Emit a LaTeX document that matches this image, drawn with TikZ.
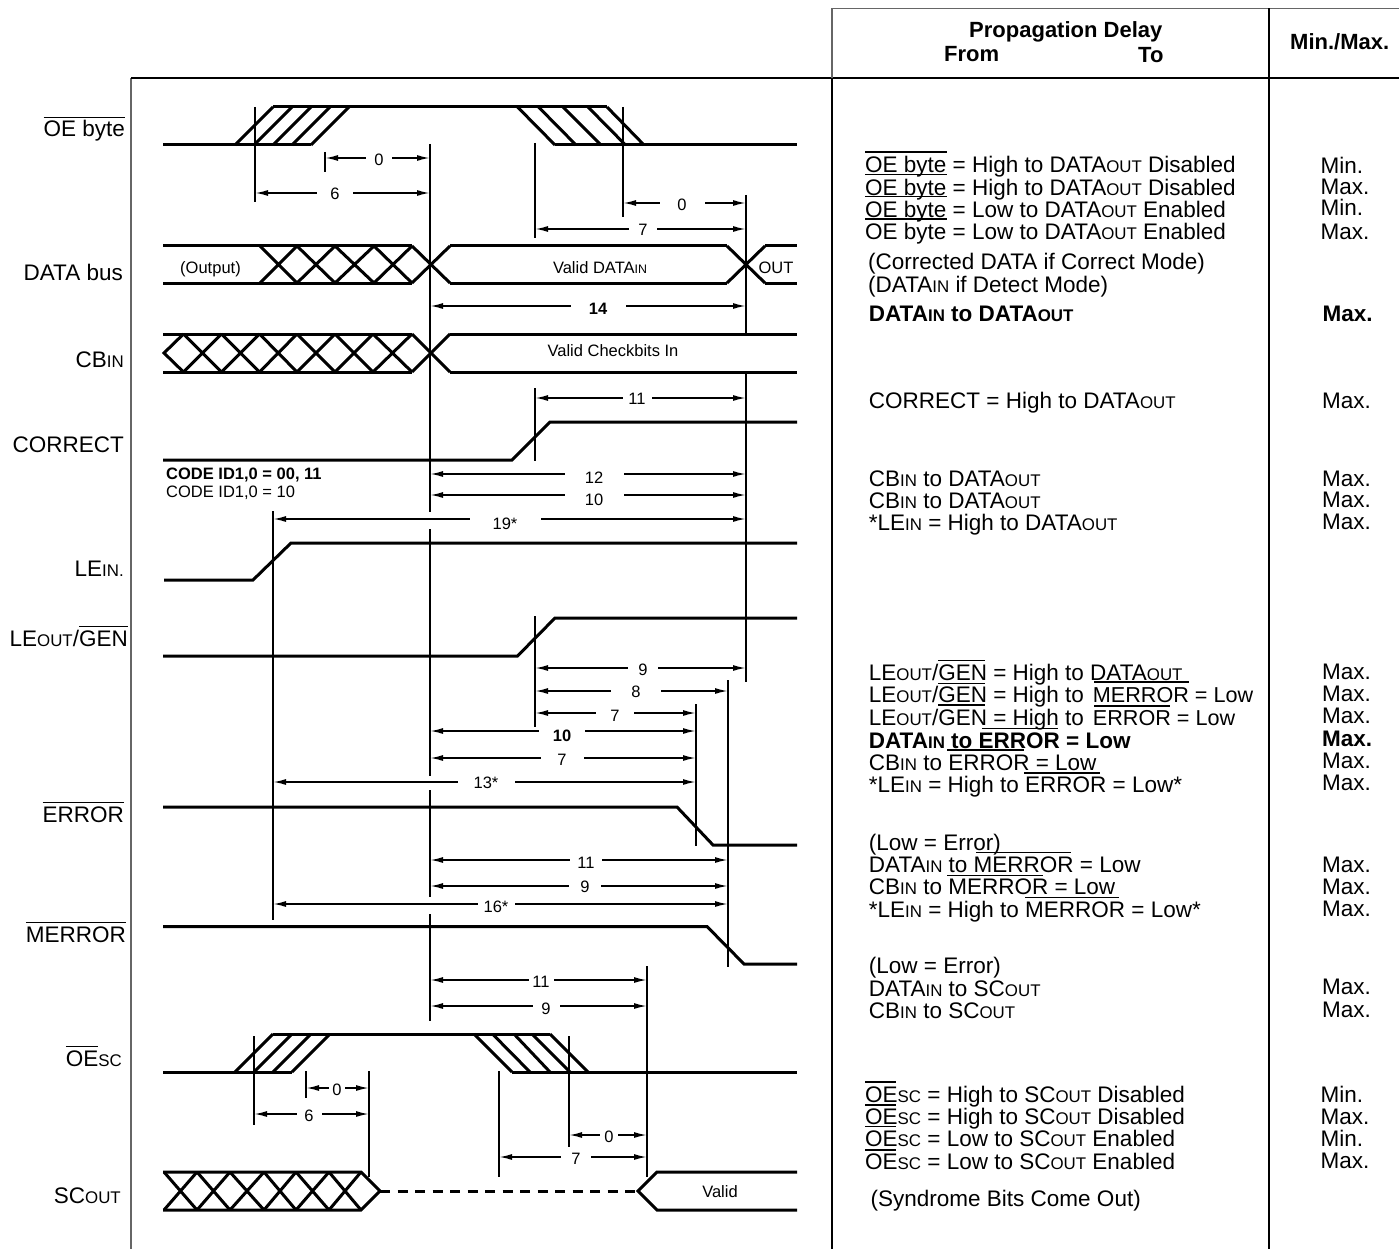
\documentclass[tikz,border=0pt]{standalone}
\usepackage{fontspec}
\setmainfont{Liberation Sans}
\usetikzlibrary{arrows.meta}
\newcommand{\tinycap}[1]{\scalebox{0.75}{#1}}
\newcommand{\ovl}[1]{\leavevmode\setbox0\hbox{#1}\rlap{\raisebox{19pt}{\rule{\wd0}{1.2pt}}}\box0}
\newcommand{\narrowtail}[1]{{\fontsize{21.6}{24}\selectfont #1}}
\tikzset{
  signal/.style={line width=3pt},
  guideline/.style={line width=1.9pt},
  framegray/.style={line width=1.6pt,black!60},
  framedark/.style={line width=2pt},
  hairline/.style={line width=1.1pt},
  dimarrow/.style={line width=1.7pt,{Latex[length=13pt,width=6pt]}-{Latex[length=13pt,width=6pt]}},
  dimlabel/.style={fill=white,inner sep=0pt,text height=12pt,text depth=0pt,font=\fontsize{16.5}{18}\selectfont},
  siglabel/.style={anchor=base east,inner sep=0pt,font=\fontsize{22.5}{24}\selectfont},
  rowtext/.style={anchor=base west,inner sep=0pt,font=\fontsize{22.5}{24}\selectfont},
  headtext/.style={anchor=base west,inner sep=0pt,font=\fontsize{22}{24}\selectfont\bfseries},
  wavetext/.style={anchor=base,inner sep=0pt,font=\fontsize{16.5}{18}\selectfont},
}
\begin{document}
\begin{tikzpicture}[x=1pt,y=-1pt]
  \useasboundingbox (0,0) rectangle (1399,1249);

  \draw[framegray] (131,1249) -- (131,78);
  \draw[framedark] (131,78) -- (1399,78);
  \draw[framegray] (832,78) -- (832,8.5) -- (1399,8.5);
  \draw[framedark] (832,78) -- (832,1249);
  \draw[framedark] (1269,8.5) -- (1269,1249);

  \foreach \x/\ya/\yb in {255/107/202,325/152/172,430/144/512,430/529/776,430/790/897,430/914/1021,
      535/143/238,623/107/217,746/195/333,746/373/682,535/388/461,273/511/920,535/616/727,
      728/680/967,696/704/846,254/1036/1125,306/1071/1098,369/1071/1177,499/1071/1177,
      569/1036/1147,647/966/1177}
    \draw[guideline] (\x,\ya) -- (\x,\yb);

  % OE byte
  \draw[signal] (163,145) -- (311,145);
  \draw[signal] (273,107) -- (607,107);
  \draw[signal] (555,145) -- (797,145);
  \foreach \a in {235,254,273,292,311}
    \draw[signal] (\a,145) -- ({\a+38},107);
  \foreach \a/\b in {517.5/555,538.5/576,563/601,588/625.5,607/644}
    \draw[signal] (\a,107) -- (\b,145);

  % DATA bus
  \draw[signal] (163,246) -- (412,246) (163,283) -- (412,283);
  \draw[signal] (450,246) -- (727,246) (450,283) -- (727,283);
  \draw[signal] (765,246) -- (797,246) (765,283) -- (797,283);
  \foreach \a/\b in {260/297,297/335,335/374,374/412,412/450,727/765}
    \draw[signal] (\a,246) -- (\b,283) (\a,283) -- (\b,246);

  % CB in
  \draw[signal] (163,334) -- (412,334) (163,372) -- (412,372);
  \draw[signal] (450,334) -- (797,334) (450,372) -- (797,372);
  \draw[signal] (183.5,334) -- (164,353) -- (183.5,372);
  \foreach \a/\b in {183.5/221.5,221.5/259.5,259.5/297,297/335,335/373,373/412,412/450}
    \draw[signal] (\a,334) -- (\b,372) (\a,372) -- (\b,334);

  \draw[signal] (163,460) -- (512,460) -- (550,422) -- (797,422);
  \draw[signal] (164,580) -- (253,580) -- (291,543) -- (797,543);
  \draw[signal] (163,656) -- (517.5,656) -- (555,618) -- (797,618);
  \draw[signal] (163,807) -- (677,807) -- (713,845) -- (797,845);
  \draw[signal] (163,926.5) -- (707,926.5) -- (744,964) -- (797,964);

  % OE sc
  \draw[signal] (163,1072) -- (292,1072);
  \draw[signal] (273,1034) -- (550,1034);
  \draw[signal] (512,1072) -- (797,1072);
  \foreach \a in {235,254,273,292}
    \draw[signal] (\a,1072) -- ({\a+38},1034);
  \foreach \a/\b in {474/512,492.5/530,514/550,532/570,550/588}
    \draw[signal] (\a,1034) -- (\b,1072);

  % SC out
  \draw[signal] (163,1172) -- (361,1172) -- (380,1191) -- (361,1210) -- (163,1210);
  \foreach \a/\b in {164/197,197/230,230/264,264/296,296/329,329/361}
    \draw[signal] (\a,1172) -- (\b,1210) (\a,1210) -- (\b,1172);
  \draw[signal,dash pattern=on 10pt off 7.5pt] (380,1191) -- (638,1191);
  \draw[signal] (797,1172) -- (657,1172) -- (638,1191) -- (657,1210) -- (797,1210);

  \foreach \xa/\xb/\y/\xl/\yl/\gap/\txt in {
      325/430/158/379/160/26/0,255/430/193/335/194/36/6,623/746/203/682/205/45/0,535/746/229/643/230/28/7,
      430/746/306/598/308/55/\textbf{14},535/746/398/637/398/29/11,
      430/746/474/594/477/59/12,430/746/495/594/499/59/10,273/746/519/505/523/71/19*,
      535/746/668/643/669/30/9,535/728/691/636/691/50/8,535/696/713/615/715/38/7,
      430/696/731/562/735/46/\textbf{10},430/696/758/562/759/43/7,273/696/782/486/782/57/13*,
      430/728/860/586/862/32/11,430/728/886/585/886/32/9,273/728/904/496/906/37/16*,
      430/647/980/541/981/25/11,430/647/1006/546/1008/27/9,306/369/1088/337/1089/16/0,
      254/369/1114/309/1115/25/6,569/647/1135/609/1136/18/0,499/647/1157/576/1158/30/7}
    \draw[dimarrow] (\xa,\y) -- (\xb,\y) node[dimlabel,minimum width=\gap pt] at (\xl,\yl) {\txt};

  \node[wavetext] (outlabel) at (210.5,273) {(Output)};
  \node[wavetext] (datain) at (600,273) {Valid DATA\tinycap{IN}};
  \node[wavetext] (outtext) at (776,273) {OUT};
  \node[wavetext] (cbtext) at (613,356) {Valid Checkbits In};
  \node[wavetext] (validsc) at (720,1197) {Valid};
  \node[wavetext,anchor=base west] (code1) at (166,479) {\textbf{CODE ID1,0 = 00, 11}};
  \node[wavetext,anchor=base west] (code2) at (166,497) {CODE ID1,0 = 10};

  \node[siglabel] (oebyte) at (125,137) {\ovl{OE byte}};
  \node[siglabel] (databus) at (123,280) {DATA bus};
  \node[siglabel] (cbin) at (124,367) {CB\tinycap{IN}};
  \node[siglabel] (correct) at (124,452) {CORRECT};
  \node[siglabel] (lein) at (124,576) {LE\tinycap{IN.}};
  \node[siglabel] (leout) at (128,646) {LE\tinycap{OUT}/\ovl{GEN}};
  \node[siglabel] (error) at (124,822) {\ovl{ERROR}};
  \node[siglabel] (merror) at (126,942) {\ovl{MERROR}};
  \node[siglabel] (oesc) at (122,1066) {\ovl{OE}\tinycap{SC}};
  \node[siglabel] (scout) at (121,1203) {SC\tinycap{OUT}};

  \node[headtext] (hdrprop) at (969,38) {Propagation Delay};
  \node[headtext] (hdrfrom) at (944,62) {From};
  \node[headtext] (hdrto) at (1138,63) {To};
  \node[headtext] (hdrminmax) at (1290,50) {Min./Max.};

  \foreach \xr/\yr/\txt [count=\i] in {
      865/172.7/OE byte = High to DATA\tinycap{OUT} Disabled,
      865/195.2/OE byte = High to DATA\tinycap{OUT} Disabled,
      865/217.2/OE byte = Low to DATA\tinycap{OUT} Enabled,
      865/239.7/OE byte = Low to DATA\tinycap{OUT} Enabled,
      868/269.7/(Corrected DATA if Correct Mode),
      868/292/(DATA\tinycap{IN} if Detect Mode),
      868.7/321/\textbf{DATA\tinycap{IN} to DATA\tinycap{OUT}},
      868.7/408.5/CORRECT = High to DATA\tinycap{OUT},
      868.7/486/CB\tinycap{IN} to DATA\tinycap{OUT},
      868.7/508.5/CB\tinycap{IN} to DATA\tinycap{OUT},
      868.7/530.5/*LE\tinycap{IN} = High to DATA\tinycap{OUT},
      868.7/680.7/{LE\tinycap{OUT}/GEN = High to DATA\tinycap{OUT}},
      868.7/702.7/{LE\tinycap{OUT}/GEN = High to\hspace{9pt}\narrowtail{MERROR = Low}},
      868.7/725.7/{LE\tinycap{OUT}/GEN = High to\hspace{9pt}\narrowtail{ERROR = Low}},
      868.7/748.3/\textbf{DATA\tinycap{IN} to ERROR = Low},
      868.7/770/CB\tinycap{IN} to ERROR = Low,
      868.7/792.7/*LE\tinycap{IN} = High to ERROR = Low*,
      868.7/850/(Low = Error),
      868.7/872.7/DATA\tinycap{IN} to MERROR = Low,
      868.7/894.3/CB\tinycap{IN} to MERROR = Low,
      868.7/917.3/*LE\tinycap{IN} = High to MERROR = Low*,
      868.7/973.3/(Low = Error),
      868.7/996/DATA\tinycap{IN} to SC\tinycap{OUT},
      868.7/1018.3/CB\tinycap{IN} to SC\tinycap{OUT},
      865/1102.3/OE\tinycap{SC} = High to SC\tinycap{OUT} Disabled,
      865/1124.3/OE\tinycap{SC} = High to SC\tinycap{OUT} Disabled,
      865/1146.7/OE\tinycap{SC} = Low to SC\tinycap{OUT} Enabled,
      865/1169/OE\tinycap{SC} = Low to SC\tinycap{OUT} Enabled,
      870.5/1206/(Syndrome Bits Come Out)}
    \node[rowtext] (row\i) at (\xr,\yr) {\txt};

  \foreach \xr/\yr/\txt [count=\i] in {
      1320.4/173.7/Min.,1320.4/194.7/Max.,1320.4/216/Min.,1320.4/239.7/Max.,1322.5/321/\textbf{Max.},
      1322/408/Max.,1322/486/Max.,1322/507/Max.,1322/529/Max.,
      1322/679/Max.,1322/701/Max.,1322/723/Max.,1322/746.7/\textbf{Max.},1322/768/Max.,1322/790.7/Max.,
      1322/872/Max.,1322/894/Max.,1322/916/Max.,1322/994/Max.,1322/1017/Max.,
      1320.4/1102/Min.,1320.4/1124/Max.,1320.4/1146.7/Min.,1320.4/1168/Max.}
    \node[rowtext] (lim\i) at (\xr,\yr) {\txt};

  \foreach \xa/\xb/\y in {865/946.5/152,865/946.5/174.3,865/946.5/196.7,865/946.5/219,
      938/985/660.7,938/985/683.7,1094/1189/682,938/985/705,1094/1170/706,982/1058/728.7,
      947/1024/750,1024/1100/773,976/1071/852.7,947/1042.5/875.7,1025/1119/897.7,
      865/896.4/1082,865/896.4/1105,865/896.4/1126.7,865/896.4/1150}
    \draw[hairline] (\xa,\y) -- (\xb,\y);
\end{tikzpicture}
\end{document}
